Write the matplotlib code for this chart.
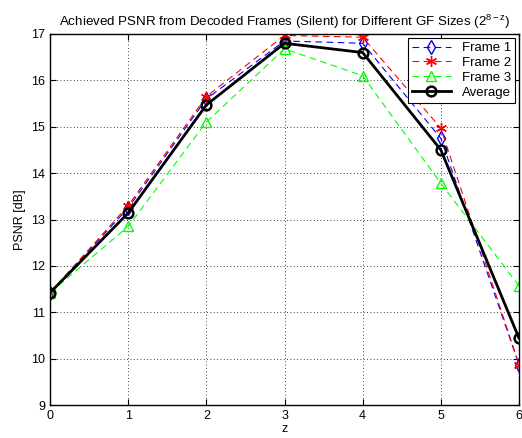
import matplotlib
matplotlib.use('Agg')
import matplotlib.pyplot as plt

plt.rcParams['font.family'] = ['Liberation Sans', 'DejaVu Sans']
plt.rcParams['mathtext.fontset'] = 'custom'
plt.rcParams['mathtext.rm'] = 'Liberation Sans'
plt.rcParams['mathtext.it'] = 'Liberation Sans'

z = [0, 1, 2, 3, 4, 5, 6]
frame1 = [11.42, 13.25, 15.60, 16.85, 16.80, 14.75, 9.87]
frame2 = [11.42, 13.30, 15.65, 16.97, 16.93, 14.97, 9.87]
frame3 = [11.42, 12.85, 15.10, 16.68, 16.10, 13.78, 11.57]
average = [11.42, 13.14, 15.47, 16.80, 16.60, 14.50, 10.44]

fig = plt.figure(figsize=(5.22, 4.38), dpi=100)
ax = fig.add_axes([50/522, 1 - 405/438, 469/522, 371/438])

dash = (0, (6, 4))
asterisk = (6, 2, 0)
ax.plot(z, frame1, linestyle=dash, color='blue', marker='d', mfc='none', ms=7, lw=0.8, label='Frame 1')
ax.plot(z, frame2, linestyle=dash, color='red', marker=asterisk, ms=8, lw=0.8, label='Frame 2')
ax.plot(z, frame3, linestyle=dash, color='#00ff00', marker='^', mfc='none', ms=7, lw=0.8, label='Frame 3')
ax.plot(z, average, '-', color='black', marker='o', mfc='none', ms=7, mew=1.8, lw=2, label='Average')

ax.set_xlim(0, 6)
ax.set_ylim(9, 17)
ax.set_xticks(range(0, 7))
ax.set_yticks(range(9, 18))
ax.tick_params(direction='in', labelsize=9, top=True, right=True, length=4)
ax.grid(True, linestyle=(0, (1, 3)), color='black', lw=0.6)
for s in ax.spines.values():
    s.set_linewidth(1.0)
ax.set_xlabel('z', fontsize=9, labelpad=1)
ax.set_ylabel('PSNR [dB]', fontsize=9)
ax.set_title('Achieved PSNR from Decoded Frames (Silent) for Different GF Sizes ($2^{8-z}$)', fontsize=9.6)

leg = ax.legend(loc='upper right', fontsize=9.5, fancybox=False, edgecolor='black',
                framealpha=1, handlelength=3, borderpad=0.3, labelspacing=0.2, borderaxespad=0.3)
leg.get_frame().set_linewidth(0.8)

fig.savefig('out.png', dpi=100)
